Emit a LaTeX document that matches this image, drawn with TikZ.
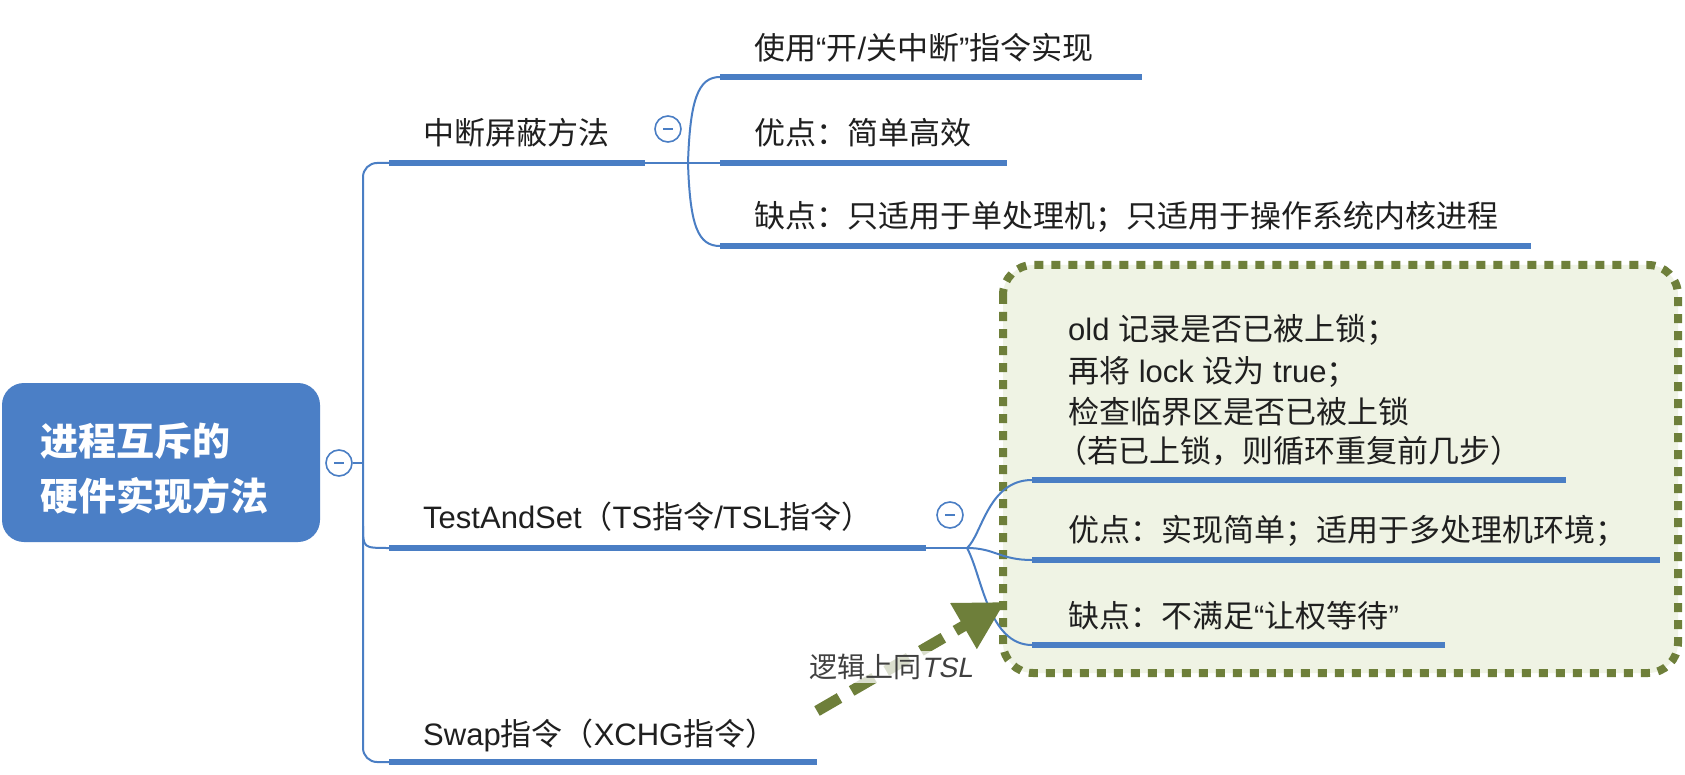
\documentclass[tikz,border=0pt]{standalone}
\usepackage{fontspec}
\setmainfont{Noto Sans CJK SC}
\newfontfamily\slfont{Liberation Sans}[FakeSlant=0.2]
\newfontfamily\lat{Liberation Sans}
\usetikzlibrary{arrows.meta}
\definecolor{mblue}{HTML}{4A7EC4}
\definecolor{rootblue}{HTML}{4B7FC6}
\definecolor{olive}{HTML}{6E7F3A}
\definecolor{boxfill}{HTML}{EFF3E4}
\tikzset{
  txt/.style={anchor=base west, inner sep=0pt, font=\fontsize{31}{36}\selectfont, text=black!88},
  roottxt/.style={anchor=base west, inner sep=0pt, font=\fontsize{38}{44}\selectfont\bfseries, text=white},
  barline/.style={line width=6pt, draw=mblue},
  thinline/.style={line width=2pt, draw=mblue},
  collapse/.style={circle, draw=mblue, line width=1.6pt, fill=white, minimum size=26pt, inner sep=0pt,
    path picture={\draw[mblue, line width=1.6pt] ([xshift=-5pt]path picture bounding box.center) -- ([xshift=5pt]path picture bounding box.center);}},
  rootbox/.style={fill=rootblue, rounded corners=22pt, inner sep=0pt},
  gbox/.style={draw=olive, fill=boxfill, line width=8pt, dash pattern=on 9pt off 8pt, rounded corners=30pt},
  garrow/.style={draw=olive, line width=11pt, dash pattern=on 26pt off 14pt, -{Triangle[length=48pt,width=50pt]}},
  lbl/.style={inner sep=3pt, fill=white, fill opacity=0.75, text opacity=1, font=\fontsize{28}{34}\selectfont, text=black!75}
}
\newcommand{\myLq}{{\lat “}}
\newcommand{\myRq}{{\lat ”}}
\begin{document}
\begin{tikzpicture}[x=1pt,y=-1pt]
\useasboundingbox (0,0) rectangle (1685,775);
\fill[white] (0,0) rectangle (1685,775);

% root
\node[rootbox, minimum width=318pt, minimum height=159pt] (root) at (161,462.5) {};
\node[roottxt] (r1) at (40,455) {进程互斥的};
\node[roottxt] (r2) at (40,510) {硬件实现方法};
\node[collapse] (c0) at (339,463) {};
\coordinate (spm) at (363,463);
\draw[thinline] (c0.east) -- (spm);

% spine
\coordinate (b1s) at (389,163);
\coordinate (b1e) at (645,163);
\coordinate (j1) at (688,163);
\coordinate (b2s) at (389,548);
\coordinate (b2e) at (926,548);
\coordinate (j2) at (967,548);
\coordinate (b3s) at (389,762);
\coordinate (b3e) at (817,762);
\coordinate (sp2) at (363,526);
\draw[thinline, rounded corners=14pt] (b1s) -- (363,163) -- (363,762) -- (b3s);
\draw[thinline] (sp2) .. controls (363,548) .. (b2s);

% green box
\draw[gbox] (1003,265) rectangle (1678,673);

% branch 1
\draw[barline] (b1s) -- (b1e);
\draw[thinline] (b1e) -- (j1);
\node[txt] (n1) at (423,145) {中断屏蔽方法};
\node[collapse] (c1) at (668,129) {};
\coordinate (s1s) at (720,77);  \coordinate (s1e) at (1142,77);
\coordinate (s2s) at (720,163); \coordinate (s2e) at (1007,163);
\coordinate (s3s) at (720,246); \coordinate (s3e) at (1531,246);
\draw[thinline] (j1) .. controls (690,100) and (698,77) .. (s1s);
\draw[thinline] (j1) -- (s2s);
\draw[thinline] (j1) .. controls (690,226) and (698,246) .. (s3s);
\draw[barline] (s1s) -- (s1e);
\draw[barline] (s2s) -- (s2e);
\draw[barline] (s3s) -- (s3e);
\node[txt] (n11) at (754,60) {使用\myLq 开{\lat /}关中断\myRq 指令实现};
\node[txt] (n12) at (754,145) {优点：简单高效};
\node[txt] (n13) at (754,228) {缺点：只适用于单处理机；只适用于操作系统内核进程};

% branch 2
\draw[barline] (b2s) -- (b2e);
\draw[thinline] (b2e) -- (j2);
\node[txt] (n2) at (423,528) {{\lat TestAndSet}（{\lat TS}指令{\lat /TSL}指令）};
\node[collapse] (c2) at (950,515) {};
\coordinate (t1s) at (1032,480); \coordinate (t1e) at (1566,480);
\coordinate (t2s) at (1032,560); \coordinate (t2e) at (1660,560);
\coordinate (t3s) at (1032,645); \coordinate (t3e) at (1445,645);
\draw[thinline] (j2) .. controls (982,535) and (988,480) .. (t1s);
\draw[thinline] (j2) .. controls (995,548) and (1000,560) .. (t2s);
\draw[thinline] (j2) .. controls (982,575) and (988,645) .. (t3s);
\draw[barline] (t1s) -- (t1e);
\draw[barline] (t2s) -- (t2e);
\draw[barline] (t3s) -- (t3e);
\node[txt] (n21a) at (1068,341) {{\lat old }记录是否已被上锁；};
\node[txt] (n21b) at (1068,382) {再将{\lat { }lock }设为{\lat { }true}；};
\node[txt] (n21c) at (1068,423) {检查临界区是否已被上锁};
\node[txt] (n21d) at (1056,462) {（若已上锁，则循环重复前几步）};
\node[txt] (n22) at (1068,541) {优点：实现简单；适用于多处理机环境；};
\node[txt] (n23) at (1068,627) {缺点：不满足\myLq 让权等待\myRq};

% branch 3
\draw[barline] (b3s) -- (b3e);
\node[txt] (n3) at (423,745) {{\lat Swap}指令（{\lat XCHG}指令）};

% arrow
\coordinate (a0) at (817,711);
\coordinate (a1) at (1005,602);
\draw[garrow] (a0) -- (a1);
\node[lbl] (lab) at (891,667) {逻辑上同{\slfont TSL}};
\end{tikzpicture}
\end{document}
